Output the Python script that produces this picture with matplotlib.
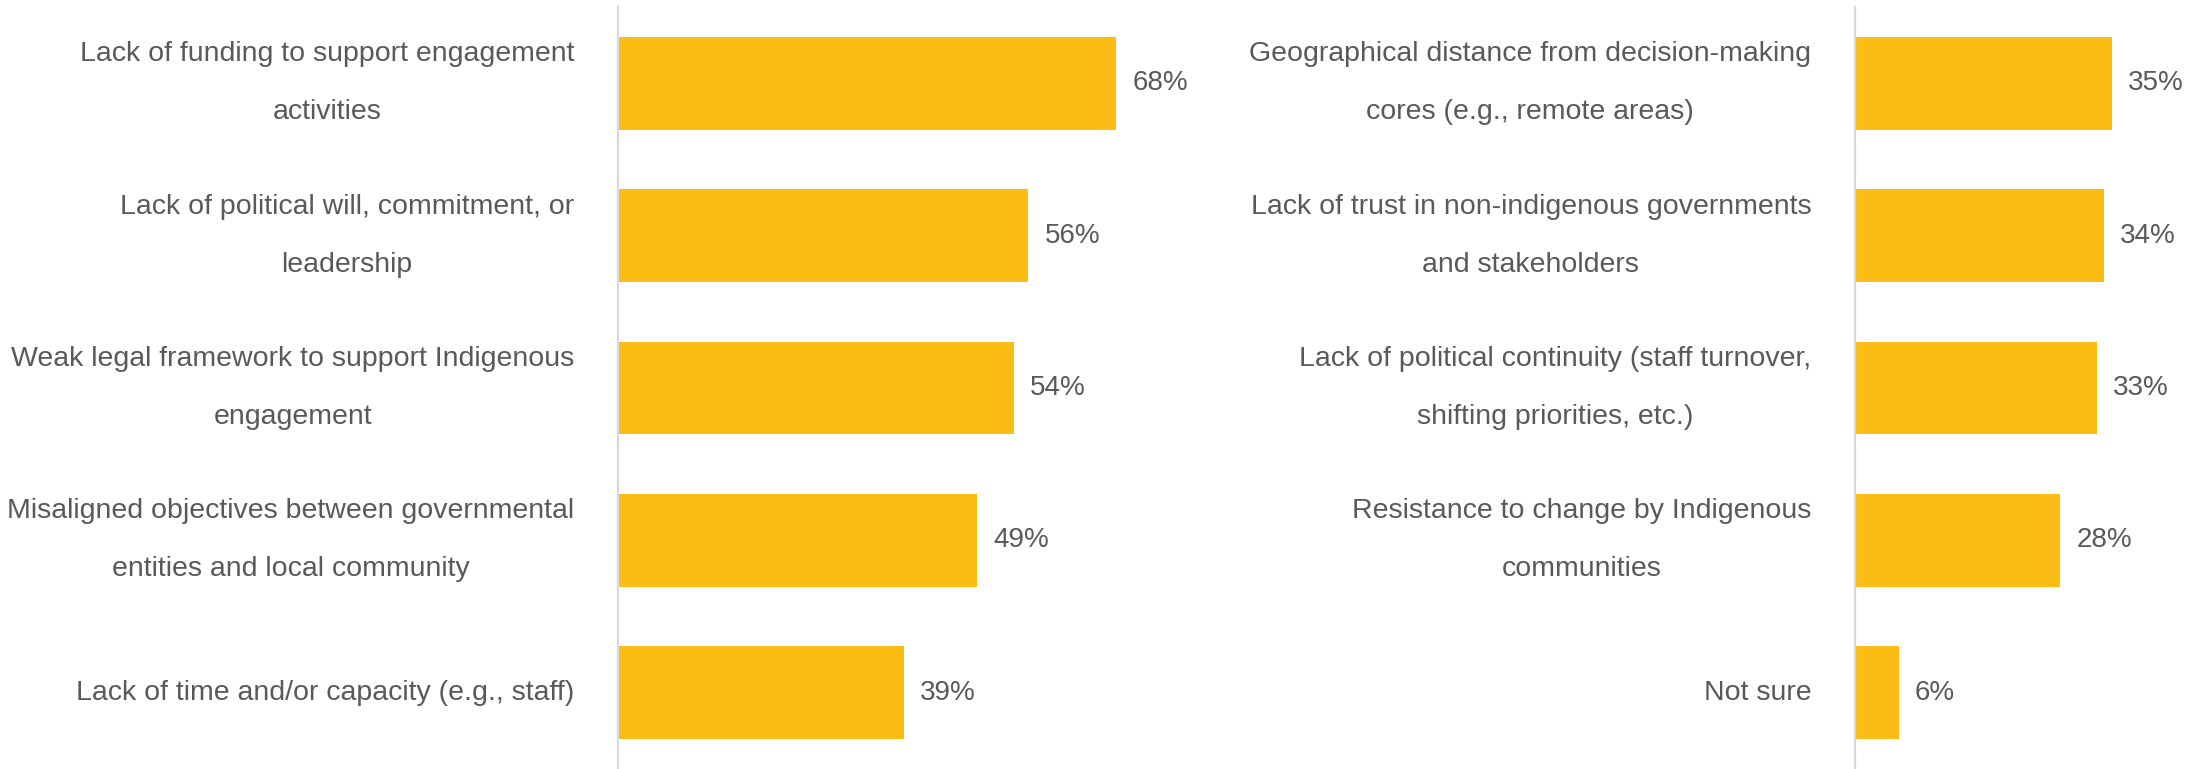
import matplotlib
matplotlib.use("Agg")
import matplotlib.pyplot as plt

# Barriers to Indigenous engagement, share of respondents (%)
left_labels = [
    "Lack of funding to support engagement\nactivities",
    "Lack of political will, commitment, or\nleadership",
    "Weak legal framework to support Indigenous\nengagement",
    "Misaligned objectives between governmental\nentities and local community",
    "Lack of time and/or capacity (e.g., staff)",
]
left_values = [68, 56, 54, 49, 39]

right_labels = [
    "Geographical distance from decision-making\ncores (e.g., remote areas)",
    "Lack of trust in non-indigenous governments\nand stakeholders",
    "Lack of political continuity (staff turnover,\nshifting priorities, etc.)",
    "Resistance to change by Indigenous\ncommunities",
    "Not sure",
]
right_values = [35, 34, 33, 28, 6]

BAR = "#FBBC13"
TEXT = "#595959"
AXLINE = "#D9D9D9"
plt.rcParams["font.family"] = ["Liberation Sans", "DejaVu Sans"]

W, H = 2202, 769
fig = plt.figure(figsize=(W / 100, H / 100), dpi=100)
fig.patch.set_facecolor("white")

px_per_pct = 7.33


def panel(x0, xmax, labels, values):
    top, bottom = 7, 0
    ax = fig.add_axes([x0 / W, bottom / H, xmax * px_per_pct / W, (H - top - bottom) / H])
    y = list(range(len(values)))
    ax.barh(y, values, height=0.61, color=BAR, zorder=2)
    ax.set_xlim(0, xmax)
    ax.set_ylim(len(values) - 0.5, -0.5)
    for s in ["top", "right", "bottom"]:
        ax.spines[s].set_visible(False)
    ax.spines["left"].set_color(AXLINE)
    ax.spines["left"].set_linewidth(1.6)
    ax.set_xticks([])
    ax.set_yticks([])
    # category labels to the left of the axis line
    for yi, lab in zip(y, labels):
        ax.annotate(lab, xy=(0, yi), xycoords=("axes fraction", "data"),
                    xytext=(-31.5, 0), textcoords="offset points",
                    ha="right", va="center", multialignment="center",
                    fontsize=20.5, color=TEXT, linespacing=2.6)
    for yi, v in zip(y, values):
        ax.text(v + 2.2, yi, f"{v}%", va="center", ha="left", fontsize=20, color=TEXT)
    return ax


panel(618, 80, left_labels, left_values)
panel(1855, 47, right_labels, right_values)

fig.savefig("out.png", dpi=100, facecolor="white")
